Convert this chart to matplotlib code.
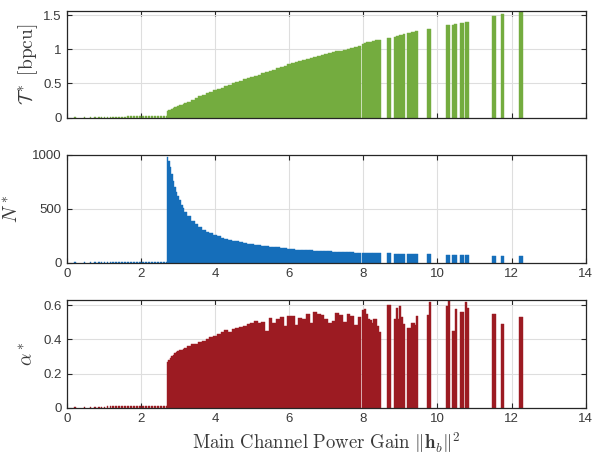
import numpy as np
import matplotlib
matplotlib.use("Agg")
import matplotlib.pyplot as plt

plt.rcParams['mathtext.fontset'] = 'cm'
plt.rcParams['font.family'] = ['Liberation Sans', 'DejaVu Sans']

# channel gain grid (three regions: near-zero, dense, sparse)
x_low = [0.22, 0.48, 0.64, 0.76, 0.86, 0.94, 1.02, 1.10, 1.18, 1.26, 1.34, 1.42,
         1.50, 1.58, 1.66, 1.74, 1.82, 1.90, 1.98, 2.06, 2.14, 2.22, 2.30, 2.38,
         2.46, 2.54, 2.62, 2.70]
x_dense = [2.72, 2.76, 2.80, 2.84, 2.88, 2.92, 2.96, 3.00, 3.05, 3.10, 3.15, 3.20,
           3.3, 3.4, 3.5, 3.6, 3.7, 3.8, 3.9, 4.0, 4.1, 4.2, 4.3, 4.4, 4.5, 4.6,
           4.7, 4.8, 4.9, 5.0, 5.1, 5.2, 5.3, 5.4, 5.5, 5.6, 5.7, 5.8, 5.9, 6.0,
           6.1, 6.2, 6.3, 6.4, 6.5, 6.6, 6.7, 6.8, 6.9, 7.0, 7.1, 7.2, 7.3, 7.4,
           7.5, 7.6, 7.7, 7.8, 7.9]
x_sparse = [8.00, 8.05, 8.10, 8.15, 8.20, 8.25, 8.30, 8.35, 8.40, 8.45,
            8.67, 8.72,
            8.85, 8.90, 8.95, 9.00, 9.05, 9.10,
            9.21, 9.26, 9.31, 9.36, 9.41, 9.46,
            9.75, 9.80,
            10.26, 10.31,
            10.41, 10.46, 10.51,
            10.64, 10.68,
            10.77, 10.82,
            11.50, 11.55,
            11.73, 11.77,
            12.22, 12.27]

# throughput T*
T_low = [0.008, 0.008, 0.009, 0.010, 0.010, 0.011, 0.012, 0.013, 0.014, 0.015,
         0.016, 0.016, 0.017, 0.017, 0.018, 0.018, 0.019, 0.019, 0.020, 0.020,
         0.021, 0.021, 0.022, 0.022, 0.023, 0.023, 0.024, 0.024]
T_dense = [0.10, 0.11, 0.12, 0.13, 0.14, 0.15, 0.16, 0.165, 0.18, 0.19, 0.20, 0.21,
           0.235, 0.26, 0.285, 0.31, 0.33, 0.355, 0.375, 0.40,
           0.42, 0.44, 0.46, 0.48, 0.50, 0.52, 0.54, 0.56, 0.575, 0.595,
           0.61, 0.63, 0.65, 0.665, 0.685, 0.70, 0.72, 0.735, 0.75, 0.78,
           0.795, 0.81, 0.825, 0.84, 0.855, 0.87, 0.885, 0.90, 0.915, 0.93,
           0.94, 0.955, 0.97, 0.98, 0.995, 1.01, 1.02, 1.035, 1.05]
T_sparse = [1.08, 1.09, 1.10, 1.10, 1.11, 1.12, 1.12, 1.13, 1.14, 1.14,
            1.16, 1.16,
            1.18, 1.19, 1.20, 1.21, 1.21, 1.22,
            1.23, 1.24, 1.25, 1.25, 1.26, 1.27,
            1.29, 1.29,
            1.35, 1.35,
            1.36, 1.37, 1.37,
            1.38, 1.38,
            1.40, 1.40,
            1.49, 1.49,
            1.51, 1.51,
            1.56, 1.56]

# N*
N_low = [3] * 28
N_dense = [985, 945, 890, 820, 755, 705, 660, 620, 585, 540, 505, 475,
           430, 390, 355, 328, 305, 288, 272, 257,
           245, 232, 222, 212, 205, 197, 190, 184, 178, 173,
           168, 164, 159, 154, 149, 145, 142, 137, 132, 126,
           124, 122, 120, 118, 116, 114, 112, 111, 109, 107,
           104, 101, 99, 98, 97, 96, 95, 94, 93]
N_sparse = [92, 92, 91, 91, 90, 90, 89, 89, 88, 88,
            86, 86,
            84, 84, 83, 83, 82, 82,
            81, 81, 80, 80, 80, 79,
            78, 78,
            72, 72,
            71, 71, 70,
            70, 70,
            69, 69,
            66, 66,
            64, 64,
            63, 63]

# alpha*
a_low = [0.005, 0.005, 0.005, 0.006, 0.006, 0.006, 0.006, 0.007, 0.007, 0.007,
         0.007, 0.008, 0.008, 0.008, 0.008, 0.008, 0.009, 0.009, 0.009, 0.009,
         0.009, 0.010, 0.010, 0.010, 0.010, 0.010, 0.010, 0.010]
a_dense = [0.27, 0.28, 0.29, 0.30, 0.31, 0.32, 0.325, 0.33, 0.335, 0.34, 0.345, 0.35,
           0.36, 0.37, 0.375, 0.385, 0.39, 0.40, 0.415, 0.42,
           0.43, 0.445, 0.455, 0.445, 0.46, 0.465, 0.47, 0.48, 0.49, 0.495,
           0.505, 0.495, 0.50, 0.45, 0.525, 0.495, 0.52, 0.528, 0.48, 0.534,
           0.534, 0.485, 0.525, 0.52, 0.548, 0.495, 0.559, 0.548, 0.544, 0.52,
           0.495, 0.51, 0.556, 0.54, 0.50, 0.548, 0.534, 0.485, 0.53]
a_sparse = [0.57, 0.575, 0.55, 0.52, 0.515, 0.495, 0.52, 0.52, 0.48, 0.44,
            0.60, 0.60,
            0.52, 0.585, 0.52, 0.596, 0.53, 0.487,
            0.468, 0.468, 0.497, 0.497, 0.483, 0.536,
            0.542, 0.62,
            0.596, 0.63,
            0.448, 0.448, 0.577,
            0.561, 0.561,
            0.616, 0.581,
            0.548, 0.548,
            0.489, 0.489,
            0.532, 0.532]

green = '#74AC3F'
blue = '#156EBA'
red = '#9C1B22'
axcol = '#262626'
txtcol = '#3a3a3a'


def draw_bars(ax, color, h_low, h_dense, h_sparse):
    # dense part: bars fill the whole spacing
    xd = np.array(x_dense)
    mid = (xd[1:] + xd[:-1]) / 2
    left = np.concatenate([[xd[0] - (xd[1] - xd[0]) / 2], mid])
    right = np.concatenate([mid, [xd[-1] + (xd[-1] - xd[-2]) / 2]])
    ax.bar(left, h_dense, width=right - left, align='edge', color=color,
           edgecolor=color, linewidth=0.3)
    ax.bar(x_low, h_low, width=0.05, color=color, edgecolor=color, linewidth=0.3)
    ax.bar(x_sparse, h_sparse, width=0.05, color=color, edgecolor=color,
           linewidth=0.3)


fig = plt.figure(figsize=(5.93, 4.54), dpi=100)
ax1 = fig.add_axes([0.1125, 0.7407, 0.8752, 0.2350])
ax2 = fig.add_axes([0.1125, 0.4214, 0.8752, 0.2372])
ax3 = fig.add_axes([0.1125, 0.1020, 0.8752, 0.2372])

draw_bars(ax1, green, T_low, T_dense, T_sparse)
draw_bars(ax2, blue, N_low, N_dense, N_sparse)
draw_bars(ax3, red, a_low, a_dense, a_sparse)

ax1.set_ylim(0, 1.558)
ax1.set_yticks([0, 0.5, 1, 1.5])
ax1.set_yticklabels(['0', '0.5', '1', '1.5'])
ax2.set_ylim(0, 1000)
ax2.set_yticks([0, 500, 1000])
ax3.set_ylim(0, 0.63)
ax3.set_yticks([0, 0.2, 0.4, 0.6])
ax3.set_yticklabels(['0', '0.2', '0.4', '0.6'])

for ax in (ax1, ax2, ax3):
    ax.set_xlim(0, 14)
    ax.set_xticks([0, 2, 4, 6, 8, 10, 12, 14])
    ax.grid(True, color='#dedede', linewidth=0.8)
    ax.set_axisbelow(True)
    ax.tick_params(direction='in', length=3.5, width=0.8, colors=axcol,
                   labelsize=9.5, top=True, right=True, labelcolor=txtcol)
    for s in ax.spines.values():
        s.set_color(axcol)
        s.set_linewidth(0.9)

ax1.set_xticklabels([])

ax1.set_ylabel(r'$\mathcal{T}^*\ \mathrm{[bpcu]}$', fontsize=14, color=txtcol)
ax2.set_ylabel(r'$N^*$', fontsize=14, color=txtcol)
ax3.set_ylabel(r'$\alpha^*$', fontsize=14, color=txtcol)
ax1.yaxis.set_label_coords(-0.052, 0.5)
ax2.yaxis.set_label_coords(-0.088, 0.5)
ax3.yaxis.set_label_coords(-0.057, 0.5)
ax3.set_xlabel(r'$\mathrm{Main\ Channel\ Power\ Gain}\ \Vert\mathbf{h}_b\Vert^2$',
               fontsize=13.5, color=txtcol, labelpad=4)

fig.savefig('out.png', dpi=100)
